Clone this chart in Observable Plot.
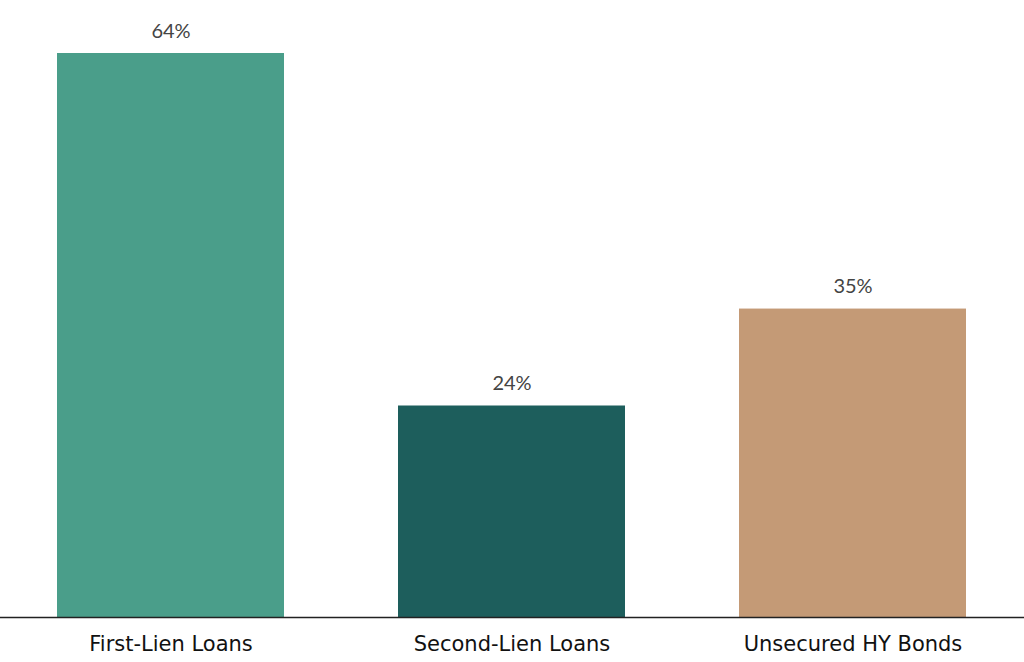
<!DOCTYPE html>
<html>
<head>
<meta charset="utf-8">
<script src="https://cdn.jsdelivr.net/npm/d3@7"></script>
<script src="https://cdn.jsdelivr.net/npm/@observablehq/plot@0.6"></script>
<style>
  html, body { margin: 0; padding: 0; background: #fff; }
  #chart { width: 1024px; height: 662px; }
</style>
</head>
<body>
<div id="chart"></div>
<script>
const categories = ["First-Lien Loans", "Second-Lien Loans", "Unsecured HY Bonds"];
const values = [64, 24, 35];
const colors = ["#4A9E8A", "#1D5E5C", "#C49A76"];

const data = categories.map((c, i) => ({category: c, value: values[i], color: colors[i]}));

const chart = Plot.plot({
  width: 1024,
  height: 662,
  marginTop: 53,
  marginBottom: 45,
  marginLeft: 0,
  marginRight: 0,
  style: {fontFamily: "'DejaVu Sans', sans-serif", background: "#fff"},
  x: {domain: categories, paddingInner: 0.333, paddingOuter: 0.167, label: null},
  y: {domain: [0, 64], axis: null},
  marks: [
    Plot.barY(data, {x: "category", y: "value", fill: "color"}),
    Plot.text(data, {x: "category", y: "value", text: d => d.value + "%", dy: -22, fontSize: 20, fill: "#444", fontFamily: "Lato, sans-serif"}),
    Plot.ruleY([0], {stroke: "#222", strokeWidth: 1.5}),
    Plot.axisX({tickSize: 0, tickPadding: 19, fontSize: 21, fill: "#111", label: null, fontFamily: "'DejaVu Sans', sans-serif"})
  ]
});
document.getElementById("chart").appendChild(chart);
</script>
</body>
</html>
